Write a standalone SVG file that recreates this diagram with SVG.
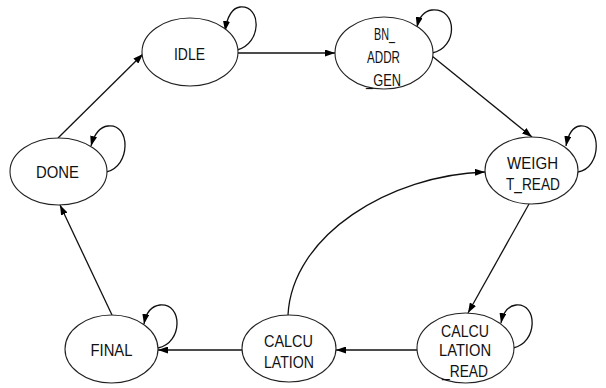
<svg xmlns="http://www.w3.org/2000/svg" width="606" height="388" viewBox="0 0 606 388">
  <defs>
    <marker id="arrow" viewBox="0 0 10 7" refX="10" refY="3.5" markerWidth="10" markerHeight="7" markerUnits="userSpaceOnUse" orient="auto">
      <path d="M0,0 L10,3.5 L0,7 z" fill="#000"/>
    </marker>
    <style>
      .state ellipse { fill: #fff; stroke: #222; stroke-width: 1.1; }
      .state text { font-family: "Liberation Sans", Arial, sans-serif; font-size: 17px; fill: #111; text-anchor: middle; }
      .edges path { fill: none; stroke: #111; stroke-width: 1.3; marker-end: url(#arrow); }
    </style>
  </defs>
  <rect width="606" height="388" fill="#fff"/>

  <g id="connectors" class="edges">
    <!-- transitions between states -->
    <path d="M238,53 L335,53"/>
    <path d="M432,56 L532,137"/>
    <path d="M529,204 L468,313"/>
    <path d="M417,350 L336,350"/>
    <path d="M242,350 L158,350"/>
    <path d="M112,315 L60,205"/>
    <path d="M58,138 L143,54"/>
    <path d="M288,315 C292,235 390,175 485,172"/>
    <!-- self loops -->
    <path d="M237,50 C262,44 262,5 240,7 C232,8 227,18 225,31"/>
    <path d="M432,53 C458,48 458,8 432,10 C424,11 419,18 417,27"/>
    <path d="M578,172 C602,168 602,124 580,126 C572,127 568,135 566,146"/>
    <path d="M106,172 C131,167 131,123 108,126 C99,127 94,135 91,146"/>
    <path d="M513,348 C538,343 538,303 516,305 C507,306 503,313 501,323"/>
    <path d="M158,348 C183,343 183,303 160,305 C151,306 146,313 144,324"/>
  </g>

  <g id="idle" class="state">
    <ellipse cx="190" cy="52" rx="48" ry="34"/>
    <text x="189.5" y="60" textLength="31" lengthAdjust="spacingAndGlyphs">IDLE</text>
  </g>

  <g id="bn_addr_gen" class="state">
    <ellipse cx="384" cy="53" rx="49" ry="36"/>
    <text x="384.5" y="40" textLength="21" lengthAdjust="spacingAndGlyphs">BN_</text>
    <text x="383.5" y="63" textLength="33" lengthAdjust="spacingAndGlyphs">ADDR</text>
    <text x="383.5" y="86" textLength="35" lengthAdjust="spacingAndGlyphs">_GEN</text>
  </g>

  <g id="weight_read" class="state">
    <ellipse cx="531.5" cy="170.5" rx="46.5" ry="33.5"/>
    <text x="532.5" y="169" textLength="51" lengthAdjust="spacingAndGlyphs">WEIGH</text>
    <text x="533" y="190" textLength="54" lengthAdjust="spacingAndGlyphs">T_READ</text>
  </g>

  <g id="calculation_read" class="state">
    <ellipse cx="465.5" cy="348" rx="48.5" ry="35"/>
    <text x="465" y="336.5" textLength="48" lengthAdjust="spacingAndGlyphs">CALCU</text>
    <text x="465" y="356" textLength="52" lengthAdjust="spacingAndGlyphs">LATION</text>
    <text x="465" y="377" textLength="46" lengthAdjust="spacingAndGlyphs">_READ</text>
  </g>

  <g id="calculation" class="state">
    <ellipse cx="289" cy="348.5" rx="47" ry="33.5"/>
    <text x="288.5" y="346.5" textLength="49" lengthAdjust="spacingAndGlyphs">CALCU</text>
    <text x="289" y="368" textLength="50" lengthAdjust="spacingAndGlyphs">LATION</text>
  </g>

  <g id="final" class="state">
    <ellipse cx="111.5" cy="349" rx="46.5" ry="34"/>
    <text x="111.5" y="356" textLength="42" lengthAdjust="spacingAndGlyphs">FINAL</text>
  </g>

  <g id="done" class="state">
    <ellipse cx="58.5" cy="171.5" rx="48.5" ry="33.5"/>
    <text x="57.5" y="178" textLength="43" lengthAdjust="spacingAndGlyphs">DONE</text>
  </g>
</svg>
